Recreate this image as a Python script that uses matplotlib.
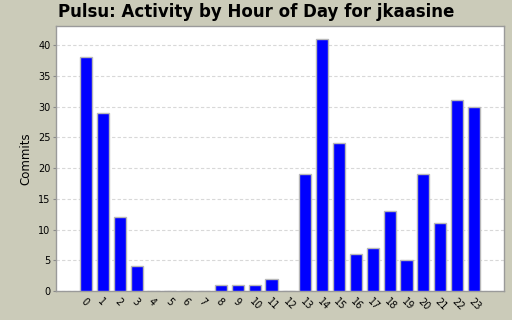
import numpy as np
import matplotlib.pyplot as plt

# Коммиты по часам суток
hours = [str(h) for h in range(24)]
commits = [38, 29, 12, 4, 0, 0, 0, 0, 1, 1, 1, 2, 0, 19, 41, 24, 6, 7, 13, 5, 19, 11, 31, 30]
yticks = [0, 5, 10, 15, 20, 25, 30, 35, 40]

bg = '#cbcbb9'
fig = plt.figure(figsize=(5.12, 3.2), dpi=100, facecolor=bg)
ax = fig.add_axes([56 / 512, 1 - 291 / 320, 448 / 512, 265 / 320])
ax.set_facecolor('white')

x = np.arange(len(hours))
ax.bar(x, commits, width=0.72, color='#0000ff', edgecolor='#b8b8b8', linewidth=1, zorder=3)

ax.set_xlim(-1.78, 24.78)
ax.set_ylim(0, 43.1)
ax.set_yticks(yticks)
ax.set_xticks(x)
ax.set_xticklabels(hours, rotation=-45, ha='left', va='top', rotation_mode='anchor')
ax.yaxis.grid(True, color='#d8d8d8', linestyle=(0, (3, 2)), linewidth=0.8, zorder=0)
ax.tick_params(axis='both', labelsize=7, length=2, color='#888888', pad=2)
ax.tick_params(axis='x', pad=4, length=0)

for s in ax.spines.values():
    s.set_color('#9a9a9a')
    s.set_linewidth(1)

ax.set_ylabel('Commits', fontsize=8.5)
fig.text(58 / 512, 1 - 12 / 320, 'Pulsu: Activity by Hour of Day for jkaasine',
         fontsize=12, fontweight='bold', ha='left', va='center')

plt.savefig('out.png', dpi=100, facecolor=bg)
